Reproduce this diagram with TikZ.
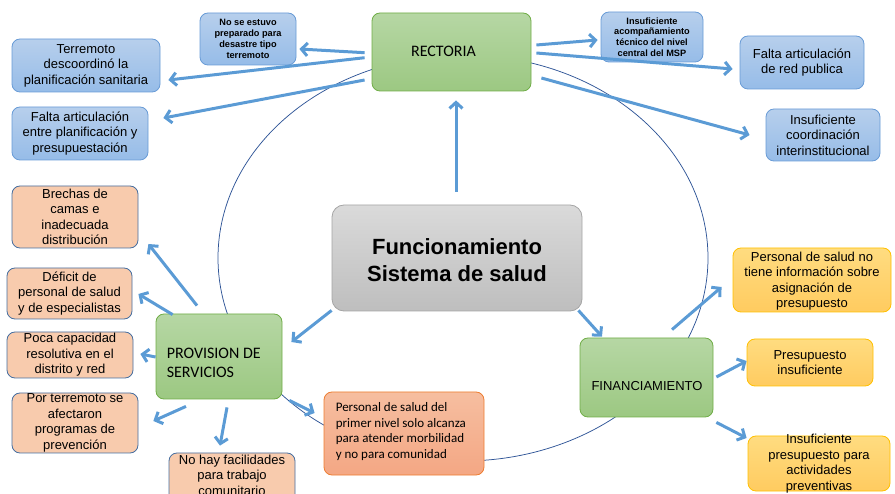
\documentclass[tikz,border=0pt]{standalone}
\usepackage{fontspec}
\setmainfont{Liberation Sans}
\newfontfamily\carlito{Carlito}
\usetikzlibrary{arrows.meta,calc}
\definecolor{arrc}{RGB}{91,155,213}
\definecolor{ellc}{RGB}{47,85,151}
\definecolor{blueT}{RGB}{183,207,236}
\definecolor{blueB}{RGB}{150,188,232}
\definecolor{blueD}{RGB}{104,155,214}
\definecolor{greenT}{RGB}{182,215,164}
\definecolor{greenB}{RGB}{156,200,130}
\definecolor{greenD}{RGB}{112,173,71}
\definecolor{grayT}{RGB}{218,218,218}
\definecolor{grayB}{RGB}{190,190,190}
\definecolor{grayD}{RGB}{165,165,165}
\definecolor{peachF}{RGB}{248,203,173}
\definecolor{peachD}{RGB}{70,110,160}
\definecolor{orT}{RGB}{246,190,160}
\definecolor{orB}{RGB}{244,167,132}
\definecolor{orD}{RGB}{237,125,49}
\definecolor{yeT}{RGB}{255,220,128}
\definecolor{yeB}{RGB}{255,203,96}
\definecolor{yeD}{RGB}{255,192,0}
\newcommand\mybox[6]{\node[#6, minimum width=#4pt, minimum height=#5pt] (#1) at (#2,#3) {};}
\begin{document}
\begin{tikzpicture}[x=1pt,y=-1pt,
  box/.style={rounded corners=8pt, line width=0.8pt, inner sep=0pt},
  blue/.style={box, draw=blueD, top color=blueT, bottom color=blueB},
  green/.style={box, draw=greenD, top color=greenT, bottom color=greenB},
  gray/.style={box, rounded corners=12pt, draw=grayD, top color=grayT, bottom color=grayB},
  peach/.style={box, draw=peachD, fill=peachF},
  orange/.style={box, draw=orD, top color=orT, bottom color=orB},
  yellow/.style={box, draw=yeD, top color=yeT, bottom color=yeB},
  txt/.style={align=center, inner sep=0pt, text=black, font=\fontsize{13}{15.5}\selectfont},
  small/.style={txt, font=\bfseries\fontsize{9.2}{10.8}\selectfont},
  arr/.style={draw=arrc, line width=3pt, -{Straight Barb[length=6pt,width=13pt]}},
  ell/.style={draw=ellc, line width=0.75pt}
]
\useasboundingbox (0,0) rectangle (895,494);
\clip (0,0) rectangle (895,494);
\draw[ell] (463,258) ellipse [x radius=245pt, y radius=203pt];

% RECTORIA group
\mybox{rect}{451.5}{52}{159}{78}{green}
\node[txt, font=\carlito\fontsize{16}{19}\selectfont] (rectt) at ($(rect.center)+(-8,-1)$) {RECTORIA};
\mybox{ns}{248}{39}{96}{52}{blue}
\node[small] (nst) at (ns.center) {No se estuvo\\preparado para\\desastre tipo\\terremoto};
\mybox{td}{86}{65.5}{148}{53}{blue}
\node[txt] (tdt) at (td.center) {Terremoto\\descoordinó la\\planificación sanitaria};
\mybox{fa}{80}{133.5}{136}{53}{blue}
\node[txt] (fat) at (fa.center) {Falta articulación\\entre planificación y\\presupuestación};
\mybox{ia}{652}{37}{102}{50}{blue}
\node[small] (iat) at (ia.center) {Insuficiente\\acompañamiento\\técnico del nivel\\central del MSP};
\mybox{fr}{802}{62.5}{124}{53}{blue}
\node[txt] (frt) at (fr.center) {Falta articulación\\de red publica};
\mybox{ic}{823}{135}{114}{52}{blue}
\node[txt] (ict) at (ic.center) {Insuficiente\\coordinación\\interinstitucional};

% centre
\mybox{cen}{457}{258}{250}{106}{gray}
\node[txt, font=\bfseries\fontsize{22}{26.5}\selectfont] (cent) at ($(cen.center)+(0,2)$) {Funcionamiento\\Sistema de salud};

% PROVISION group
\mybox{prov}{219}{356.5}{126}{85}{green}
\node[anchor=west, align=left, inner sep=0pt, font=\carlito\fontsize{16}{19.5}\selectfont] (provt) at ($(prov.west)+(11,6.5)$) {PROVISION DE\\SERVICIOS};
\mybox{br}{75}{217}{126}{62}{peach}
\node[txt] (brt) at (br.center) {Brechas de\\camas e\\inadecuada\\distribución};
\mybox{de}{69.5}{293.5}{125}{51}{peach}
\node[txt] (det) at (de.center) {Déficit de\\personal de salud\\y de especialistas};
\mybox{po}{70}{355}{126}{46}{peach}
\node[txt] (pot) at (po.center) {Poca capacidad\\resolutiva en el\\distrito y red};
\mybox{pt}{75}{423}{126}{60}{peach}
\node[txt] (ptt) at (pt.center) {Por terremoto se\\afectaron\\programas de\\prevención};
\mybox{nh}{232}{478}{126}{50}{peach}
\node[txt] (nht) at ($(nh.center)+(0,-3)$) {No hay facilidades\\para trabajo\\comunitario};
\mybox{pp}{404}{433.5}{160}{83}{orange}
\node[anchor=west, align=left, inner sep=0pt, font=\carlito\fontsize{13}{15.5}\selectfont] (ppt) at ($(pp.west)+(12,-2)$) {Personal de salud del\\primer nivel solo alcanza\\para atender morbilidad\\y no para comunidad};

% FINANCIAMIENTO group
\mybox{fin}{646.5}{377.5}{133}{79}{green}
\node[txt] (fint) at ($(fin.center)+(0.5,9)$) {FINANCIAMIENTO};
\mybox{yn}{812}{280}{158}{64}{yellow}
\node[txt] (ynt) at ($(yn.center)+(0,1)$) {Personal de salud no\\tiene información sobre\\asignación de\\presupuesto};
\mybox{pi}{810}{362.5}{126}{47}{yellow}
\node[txt] (pit) at (pi.center) {Presupuesto\\insuficiente};
\mybox{ipp}{819}{463.5}{142}{55}{yellow}
\node[txt] (ippt) at (ipp.center) {Insuficiente\\presupuesto para\\actividades\\preventivas};

% arrows
\draw[arr] ($(rect.west)+(-7,0.7)$) -- ($(ns.east)+(3,10)$);
\draw[arr] ($(rect.west)+(-7,5.7)$) -- ($(td.east)+(8,14.5)$);
\draw[arr] ($(rect.west)+(-7,28)$) -- ($(fa.east)+(15,-15.5)$);
\draw[arr] ($(rect.east)+(5,-7)$) -- ($(ia.west)+(-3,3)$);
\draw[arr] ($(rect.east)+(5,1)$) -- ($(fr.west)+(-7,6.5)$);
\draw[arr] ($(rect.east)+(10,26)$) -- ($(ic.west)+(-16,0)$);
\draw[arr] ($(cen.north)+(-1,-13)$) -- ($(rect.south)+(4.5,9)$);
\draw[arr] ($(cen.south west)+(0,-1)$) -- ($(prov.east)+(9,-14.5)$);
\draw[arr] ($(cen.south east)+(-4,-1)$) -- ($(fin.north)+(-44.5,-1)$);
\draw[arr] ($(prov.north)+(-22,-8)$) -- ($(br.east)+(10,27)$);
\draw[arr] ($(prov.north west)+(17,1)$) -- ($(de.east)+(6,0.5)$);
\draw[arr] ($(prov.west)+(0,0.5)$) -- ($(po.east)+(7,-1)$);
\draw[arr] ($(prov.south)+(-33,7)$) -- ($(pt.east)+(15,-2)$);
\draw[arr] ($(prov.south)+(8,8)$) -- ($(nh.north)+(-12,-7)$);
\draw[arr] ($(prov.south east)+(7,1)$) -- ($(pp.west)+(-9,-20.5)$);
\draw[arr] ($(fin.north)+(25.5,-8)$) -- ($(yn.west)+(-11,7)$);
\draw[arr] ($(fin.east)+(3,-0.5)$) -- ($(pi.west)+(0,-1.5)$);
\draw[arr] ($(fin.south east)+(3,5)$) -- ($(ipp.west)+(-1,-25.5)$);
\end{tikzpicture}
\end{document}
